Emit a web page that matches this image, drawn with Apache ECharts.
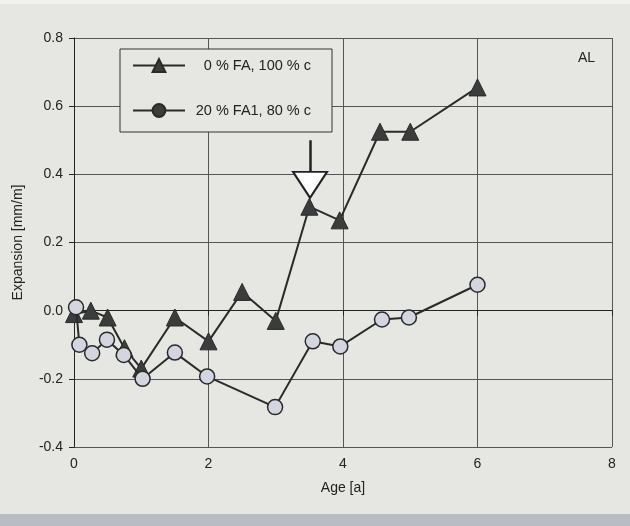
<!DOCTYPE html>
<html><head><meta charset="utf-8">
<script src="https://cdn.jsdelivr.net/npm/echarts@6/dist/echarts.min.js"></script>
<style>html,body{margin:0;padding:0;background:#e6e6e2;}#c{width:630px;height:526px;}</style>
</head><body><div id="c"></div>
<script>
var seriesNames = ['0 % FA, 100 % c', '20 % FA1, 80 % c'];
var faAge = [0, 0.25, 0.5, 0.75, 1.0, 1.5, 2.0, 2.5, 3.0, 3.5, 3.95, 4.55, 5.0, 6.0];
var faExp = [-0.01, 0.0, -0.02, -0.11, -0.17, -0.02, -0.09, 0.055, -0.03, 0.305, 0.265, 0.525, 0.525, 0.655];
var fa1Age = [0.03, 0.08, 0.27, 0.49, 0.74, 1.02, 1.5, 1.98, 2.99, 3.55, 3.96, 4.58, 4.98, 6.0];
var fa1Exp = [0.01, -0.1, -0.125, -0.085, -0.13, -0.2, -0.123, -0.193, -0.283, -0.09, -0.105, -0.026, -0.02, 0.076];
var xTicks = [0, 2, 4, 6, 8];
var yTicks = [-0.4, -0.2, 0.0, 0.2, 0.4, 0.6, 0.8];
var arrowX = 3.51, arrowTop = 0.5, arrowBottom = 0.405, arrowHead = 0.369;

var FONT = '"Liberation Sans Narrow", "Arial Narrow", "Liberation Sans", sans-serif';
function zip(a, b) { return a.map(function (v, i) { return [v, b[i]]; }); }

var chart = echarts.init(document.getElementById('c'), null, {renderer: 'canvas'});
chart.setOption({
  backgroundColor: '#e6e6e2',
  animation: false,
  grid: {left: 74, right: 18, top: 38, bottom: 79, show: false},
  graphic: [
    {type: 'rect', left: 0, top: 0, shape: {width: 630, height: 4}, style: {fill: '#f2f2f0'}, z: -10},
    {type: 'rect', left: 0, top: 514, shape: {width: 630, height: 12}, style: {fill: '#b9bdc2'}, z: -10},
    {type: 'text', left: 578, top: 51, style: {text: 'AL', font: '14px ' + FONT, fill: '#222'}}
  ],
  legend: {
    left: 120, top: 49, orient: 'vertical',
    data: [
      {name: seriesNames[0]},
      {name: seriesNames[1], itemStyle: {color: '#3a3d3c', borderColor: '#2a2a2a'}}
    ],
    itemWidth: 52, itemHeight: 16, itemGap: 30,
    padding: [9, 21, 14, 12],
    backgroundColor: '#e6e6e2', borderColor: '#333', borderWidth: 1,
    formatter: function (n) { return '{t|' + n + '}'; },
    textStyle: {
      fontFamily: FONT, fontSize: 14.5, color: '#222',
      rich: {t: {fontFamily: FONT, fontSize: 14.5, color: '#222', width: 121, align: 'right'}}
    },
    selectedMode: false
  },
  xAxis: {
    type: 'value', min: 0, max: 8, interval: 2,
    name: 'Age [a]', nameLocation: 'middle', nameGap: 34,
    nameTextStyle: {fontFamily: FONT, fontSize: 14, color: '#222'},
    axisLine: {show: true, lineStyle: {color: '#222', width: 1}},
    axisTick: {show: true, inside: false, length: 5, lineStyle: {color: '#222'}},
    axisLabel: {fontFamily: FONT, fontSize: 14, color: '#222', margin: 10,
      formatter: function (v) { return xTicks.indexOf(v) >= 0 ? String(v) : ''; }},
    splitLine: {show: true, lineStyle: {color: '#555', width: 1}}
  },
  yAxis: {
    type: 'value', min: -0.4, max: 0.8, interval: 0.2,
    name: 'Expansion [mm/m]', nameLocation: 'middle', nameGap: 49,
    nameTextStyle: {fontFamily: FONT, fontSize: 14, color: '#222'},
    axisLine: {show: true, onZero: false, lineStyle: {color: '#222', width: 1}},
    axisTick: {show: true, length: 5, lineStyle: {color: '#222'}},
    axisLabel: {fontFamily: FONT, fontSize: 14, color: '#222', margin: 11,
      formatter: function (v) {
        var r = Math.round(v * 10) / 10;
        for (var i = 0; i < yTicks.length; i++) if (Math.abs(yTicks[i] - r) < 1e-9) return r.toFixed(1);
        return '';
      }},
    splitLine: {show: true, lineStyle: {color: '#555', width: 1}}
  },
  series: [
    {
      name: seriesNames[1], type: 'line', data: zip(fa1Age, fa1Exp), z: 3,
      symbol: 'circle', symbolSize: 15,
      lineStyle: {color: '#2a2a2a', width: 2},
      itemStyle: {color: '#d3d6de', borderColor: '#2a2a2a', borderWidth: 1.5}
    },
    {
      name: seriesNames[0], type: 'line', data: zip(faAge, faExp), z: 2,
      symbol: 'triangle', symbolSize: 17,
      lineStyle: {color: '#2a2a2a', width: 2},
      itemStyle: {color: '#3a3d3c', borderColor: '#2a2a2a', borderWidth: 1},
      markLine: {
        silent: true, symbol: 'none', label: {show: false},
        lineStyle: {color: '#222', width: 2.5, type: 'solid'},
        data: [[{coord: [arrowX, arrowTop]}, {coord: [arrowX, arrowBottom]}]]
      },
      markPoint: {
        silent: true,
        data: [{coord: [arrowX, arrowHead], symbol: 'triangle', symbolRotate: 180, symbolSize: [34, 26],
          itemStyle: {color: '#ffffff', borderColor: '#222', borderWidth: 2}, label: {show: false}}]
      }
    }
  ]
});
</script></body></html>
